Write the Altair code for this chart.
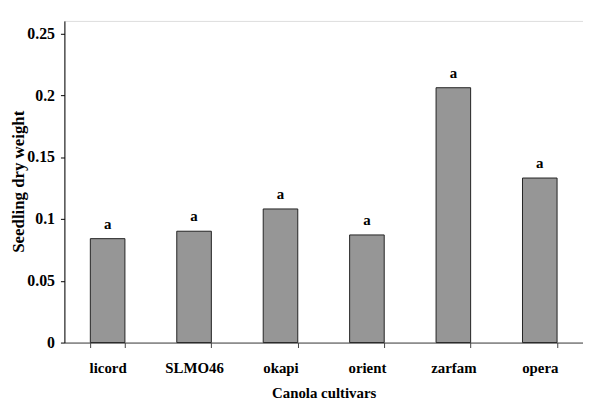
import altair as alt
import pandas as pd

cultivars = ["licord", "SLMO46", "okapi", "orient", "zarfam", "opera"]
weights = [0.084, 0.090, 0.108, 0.087, 0.206, 0.133]
letters = ["a", "a", "a", "a", "a", "a"]

df = pd.DataFrame({"cultivar": cultivars, "weight": weights, "letter": letters})

FONT = "Liberation Serif"

x = alt.X(
    "cultivar:N",
    sort=cultivars,
    scale=alt.Scale(paddingInner=0.6, paddingOuter=0.3),
    axis=alt.Axis(
        title="Canola cultivars",
        labelAngle=0,
        tickBand="extent",
        tickSize=5,
        labelPadding=13,
        domainColor="#444444",
        tickColor="#444444",
        labelFont=FONT, labelFontSize=15, labelFontWeight="bold", labelColor="black",
        titleFont=FONT, titleFontSize=15, titleFontWeight="bold", titleColor="black",
        titleY=51, titleBaseline="middle",
    ),
)

y = alt.Y(
    "weight:Q",
    scale=alt.Scale(domain=[0, 0.25]),
    axis=alt.Axis(
        title="Seedling dry weight",
        values=[0, 0.05, 0.1, 0.15, 0.2, 0.25],
        labelExpr="format(datum.value, '')",
        grid=False,
        tickSize=4,
        labelPadding=6,
        domainColor="black",
        tickColor="black",
        labelFont=FONT, labelFontSize=16, labelFontWeight="bold", labelColor="black",
        titleFont=FONT, titleFontSize=17, titleFontWeight="bold", titleColor="black",
        titleX=-46, titleY=162, titleAngle=270, titleAlign="center", titleBaseline="middle",
    ),
)

bars = alt.Chart(df).mark_bar(color="#969696", stroke="#222222", strokeWidth=1).encode(x=x, y=y)

text = alt.Chart(df).mark_text(
    font=FONT, fontSize=15, fontWeight="bold", baseline="alphabetic", dy=-10, color="black"
).encode(x=alt.X("cultivar:N", sort=cultivars), y="weight:Q", text="letter:N")

chart = (bars + text).properties(
    width=524,
    height=325,
    autosize=alt.AutoSizeParams(type="none"),
    padding={"left": 57, "top": 11, "right": 0, "bottom": 59},
).configure_view(stroke=None).configure(background="white")

chart.save("out.html", embed_options={"renderer": "svg", "actions": False})
